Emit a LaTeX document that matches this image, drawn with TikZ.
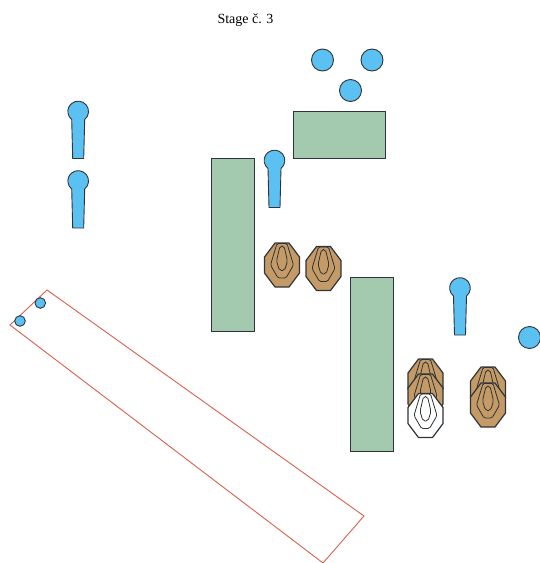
\documentclass[tikz,border=0pt]{standalone}
\usepackage{fontspec}
\setmainfont{Liberation Serif}
\definecolor{pinblue}{HTML}{5BC0F2}
\definecolor{wallgreen}{HTML}{A3C9AE}
\definecolor{tan}{HTML}{C49A66}
\definecolor{zone}{HTML}{D9604F}
\definecolor{edge}{HTML}{2F3438}
\tikzset{
 wall/.style={draw=edge,fill=wallgreen,line width=.7pt},
 disc/.style={draw=edge,fill=pinblue,line width=.9pt},
 zoneline/.style={draw=zone,line width=.9pt},
 pics/target/.style={code={
  \draw[edge,fill=#1,line width=1.2pt,line join=round] (-7,-22)--(7,-22)--(17.5,-8)--(17.5,8)--(7,22)--(-7,22)--(-17.5,8)--(-17.5,-8)--cycle;
  \draw[edge,line width=.8pt,rounded corners=1.5pt] (-5,-21.5)--(5,-21.5)--(11.5,0)--(4,13)--(-4,13)--(-11.5,0)--cycle;
  \draw[edge,line width=.8pt,rounded corners=2pt] (-2,-19)--(2,-19)--(5.5,-4)--(2.5,5.5)--(-2.5,5.5)--(-5.5,-4)--cycle;
 }},
 pics/pin/.style={code={
  \draw[disc,line join=round] (-6.5,8) -- (-5.5,47) -- (5.5,47) -- (6.5,8) arc[start angle=51,end angle=-231,radius=10.33] -- cycle;
 }}
}
\begin{document}
\begin{tikzpicture}[x=1pt,y=-1pt]
\useasboundingbox (0,0) rectangle (540,563);
\node[font=\fontsize{14}{16}\selectfont] (title) at (245.5,20) {Stage č. 3};
% zone
\draw[zoneline] (47,290) -- (364,516) -- (323,563) -- (10,325) -- cycle;
\draw[disc] (40.3,303) circle (5.3);
\draw[disc] (20,321) circle (5.3);
% walls
\draw[wall] (293,111) rectangle (385,158);
\draw[wall] (211,158) rectangle (254,331);
\draw[wall] (350,277) rectangle (393,451);
% discs
\draw[disc] (322.5,60) circle (11);
\draw[disc] (372,60) circle (11);
\draw[disc] (350.5,90.5) circle (11);
\draw[disc] (529.5,337.5) circle (11);
% pins
\pic at (78.2,111.5) {pin};
\pic at (78.2,181) {pin};
\pic at (274.5,160.5) {pin};
\pic at (460,288) {pin};
% targets
\pic at (282,265) {target=tan};
\pic at (323.5,268.5) {target=tan};
\pic at (425.5,381) {target=tan};
\pic at (425.5,396) {target=tan};
\pic at (425.5,415.5) {target=white};
\pic at (488,389) {target=tan};
\pic at (488,405) {target=tan};
\end{tikzpicture}
\end{document}
